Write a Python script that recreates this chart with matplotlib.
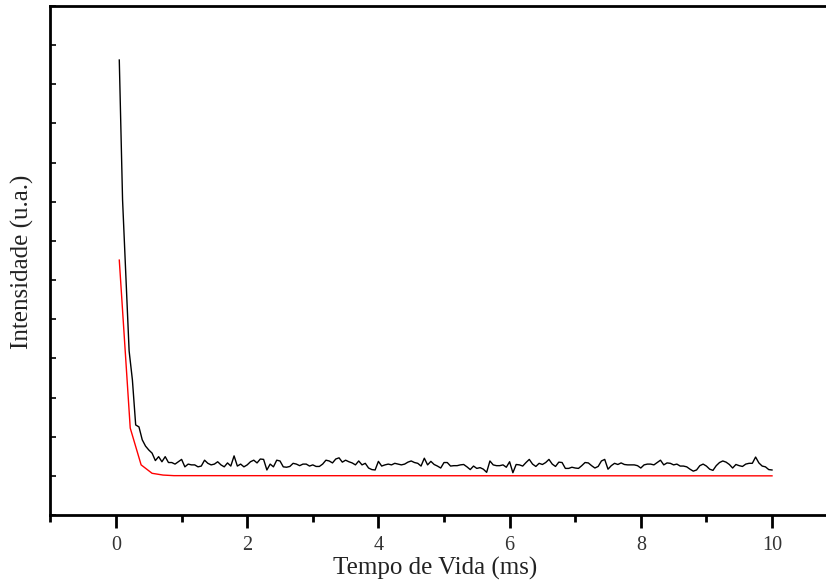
import numpy as np
import matplotlib
matplotlib.use("Agg")
import matplotlib.pyplot as plt
from matplotlib.ticker import MultipleLocator, NullFormatter

# Decay measurement, sampled every 0.05 ms from 0.05 ms to 10 ms
dt = 0.05
intensity = [
    11.62, 8.05, 6.10, 4.19, 3.45, 2.30, 2.25, 1.92, 1.76, 1.66,
    1.58, 1.39, 1.49, 1.36, 1.49, 1.34, 1.34, 1.30, 1.36, 1.42,
    1.23, 1.30, 1.28, 1.28, 1.23, 1.25, 1.40, 1.32, 1.28, 1.30,
    1.36, 1.28, 1.23, 1.33, 1.25, 1.51, 1.25, 1.30, 1.23, 1.28,
    1.36, 1.40, 1.33, 1.43, 1.42, 1.15, 1.30, 1.23, 1.40, 1.38,
    1.23, 1.22, 1.24, 1.32, 1.30, 1.26, 1.30, 1.30, 1.25, 1.28,
    1.24, 1.24, 1.30, 1.40, 1.38, 1.33, 1.43, 1.46, 1.35, 1.40,
    1.36, 1.33, 1.28, 1.38, 1.28, 1.32, 1.20, 1.16, 1.15, 1.37,
    1.25, 1.28, 1.30, 1.28, 1.32, 1.30, 1.28, 1.30, 1.35, 1.38,
    1.34, 1.32, 1.25, 1.45, 1.28, 1.37, 1.29, 1.25, 1.20, 1.34,
    1.34, 1.25, 1.26, 1.26, 1.28, 1.29, 1.23, 1.16, 1.25, 1.19,
    1.21, 1.17, 1.09, 1.38, 1.28, 1.26, 1.26, 1.28, 1.22, 1.36,
    1.08, 1.29, 1.28, 1.25, 1.34, 1.42, 1.30, 1.24, 1.32, 1.29,
    1.34, 1.42, 1.30, 1.24, 1.35, 1.34, 1.19, 1.19, 1.22, 1.20,
    1.19, 1.26, 1.34, 1.33, 1.26, 1.20, 1.24, 1.38, 1.42, 1.17,
    1.26, 1.32, 1.29, 1.33, 1.29, 1.28, 1.28, 1.28, 1.26, 1.20,
    1.28, 1.30, 1.30, 1.28, 1.34, 1.40, 1.28, 1.33, 1.32, 1.28,
    1.30, 1.25, 1.25, 1.23, 1.17, 1.12, 1.15, 1.26, 1.30, 1.25,
    1.17, 1.14, 1.26, 1.34, 1.38, 1.35, 1.29, 1.20, 1.29, 1.26,
    1.24, 1.30, 1.32, 1.32, 1.48, 1.33, 1.25, 1.23, 1.16, 1.15,
]
time_ms = dt * np.arange(1, len(intensity) + 1)

# Exponential fit evaluated on a coarser grid
fit_time = [0.05, 0.217, 0.383, 0.55, 0.717, 0.883, 10.0]
fit_intensity = [6.51, 2.22, 1.28, 1.065, 1.02, 1.005, 1.0]

plt.rcParams['font.family'] = ['Liberation Serif', 'DejaVu Serif']

fig = plt.figure(figsize=(8.26, 5.86), dpi=100)
W, H = 826, 586
ax = fig.add_axes([50.4 / W, 71 / H, 787.2 / W, 509 / H])

ax.plot(time_ms, intensity, color='black', lw=1.0)
ax.plot(fit_time, fit_intensity, color='red', lw=1.0)

ax.set_xlim(-1, 11)
ax.set_ylim(0, 13)

for side in ['left', 'bottom', 'top', 'right']:
    ax.spines[side].set_linewidth(2.0)

ax.xaxis.set_major_locator(MultipleLocator(2))
ax.xaxis.set_minor_locator(MultipleLocator(1))
ax.yaxis.set_major_locator(MultipleLocator(1))
ax.yaxis.set_major_formatter(NullFormatter())

ax.tick_params(axis='x', which='major', direction='out', length=9, width=2,
               labelsize=14.5, labelcolor='#333333', pad=6, top=False)
ax.tick_params(axis='x', which='minor', direction='out', length=5, width=2,
               top=False)
ax.tick_params(axis='y', which='major', direction='in', length=4, width=1.2,
               left=True, right=False)

# Axis titles placed in figure pixels (the axes run past the right edge)
fig.text(435 / W, 1 - 568 / H, 'Tempo de Vida (ms)', fontsize=18,
         color='#222222', ha='center', va='center')
fig.text(22 / W, 1 - 262 / H, 'Intensidade (u.a.)', fontsize=18,
         color='#222222', ha='center', va='center', rotation=90)

fig.savefig('out.png', dpi=100)
